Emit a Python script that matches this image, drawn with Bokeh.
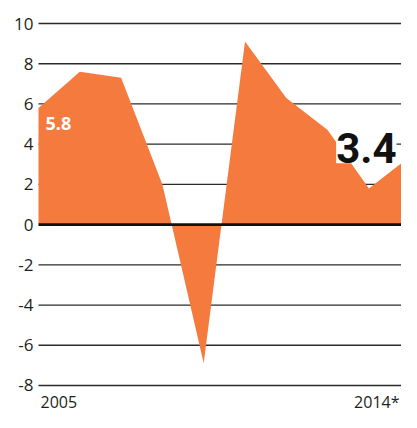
from bokeh.plotting import figure
from bokeh.models import Range1d, Label
from bokeh.core.properties import value
from bokeh.embed import file_html
from bokeh.resources import INLINE

years = [2005, 2006, 2007, 2008, 2009, 2010, 2011, 2012, 2013, 2014]
growth = [5.8, 7.6, 7.3, 2.0, -6.9, 9.1, 6.3, 4.7, 1.8, 3.4]
y_ticks = [10, 8, 6, 4, 2, 0, -2, -4, -6, -8]
y_tick_labels = [str(t) for t in y_ticks]
x_label_years = [2005, 2014]
x_labels = ["2005", "2014*"]
first_label = "5.8"
last_label = "3.4"

X_START, X_END = 2004.08, 2013.789
Y_START, Y_END = -9.343, 11.144

ORANGE = "#F47A3E"
INK = "#231F20"

p = figure(width=401, height=412, output_backend="svg", toolbar_location=None,
           x_range=Range1d(X_START, X_END), y_range=Range1d(Y_START, Y_END),
           x_axis_location=None, y_axis_location=None, min_border=0,
           background_fill_color="white", border_fill_color="white")
p.outline_line_color = None
p.xgrid.visible = False
p.ygrid.visible = False

# grid lines (behind area)
grid_ticks = [t for t in y_ticks if t != 0]
p.segment(x0=[years[0]] * len(grid_ticks), y0=grid_ticks,
          x1=[X_END] * len(grid_ticks), y1=grid_ticks,
          line_color="#2b2b2b", line_width=1.3)

# area
p.varea(x=years, y1=[0] * len(years), y2=growth, fill_color=ORANGE)

# zero line
p.segment(x0=[years[0]], y0=[0], x1=[X_END], y1=[0], line_color="#111111", line_width=2.6)

# y tick labels
p.text(x=[years[0]] * len(y_ticks), y=y_ticks, text=y_tick_labels,
       text_align="right", text_baseline="alphabetic", x_offset=-5,
       text_font=value("Open Sans"), text_font_size="17px", text_color=INK)

# x labels
p.text(x=[x_label_years[0]], y=[y_ticks[-1]], text=[x_labels[0]],
       text_align="left", text_baseline="alphabetic", x_offset=2, y_offset=17,
       text_font=value("Open Sans"), text_font_size="16px", text_color=INK)
p.text(x=[X_END], y=[y_ticks[-1]], text=[x_labels[1]],
       text_align="right", text_baseline="alphabetic", x_offset=-2, y_offset=17,
       text_font=value("Open Sans"), text_font_size="16px", text_color=INK)

# value labels
p.add_layout(Label(x=years[0], y=growth[0] - 0.75, text=first_label, x_offset=7,
                   text_align="left", text_baseline="alphabetic",
                   text_font="Open Sans", text_font_style="bold",
                   text_font_size="18px", text_color="white"))
p.add_layout(Label(x=X_END, y=growth[-1] + 0.4, text=last_label, x_offset=-5,
                   text_align="right", text_baseline="alphabetic",
                   text_font="Roboto",
                   text_font_style="bold", text_font_size="42px", text_color="#111111",
                   background_fill_color="white", padding=0))

open("out.html", "w").write(file_html(p, INLINE))
